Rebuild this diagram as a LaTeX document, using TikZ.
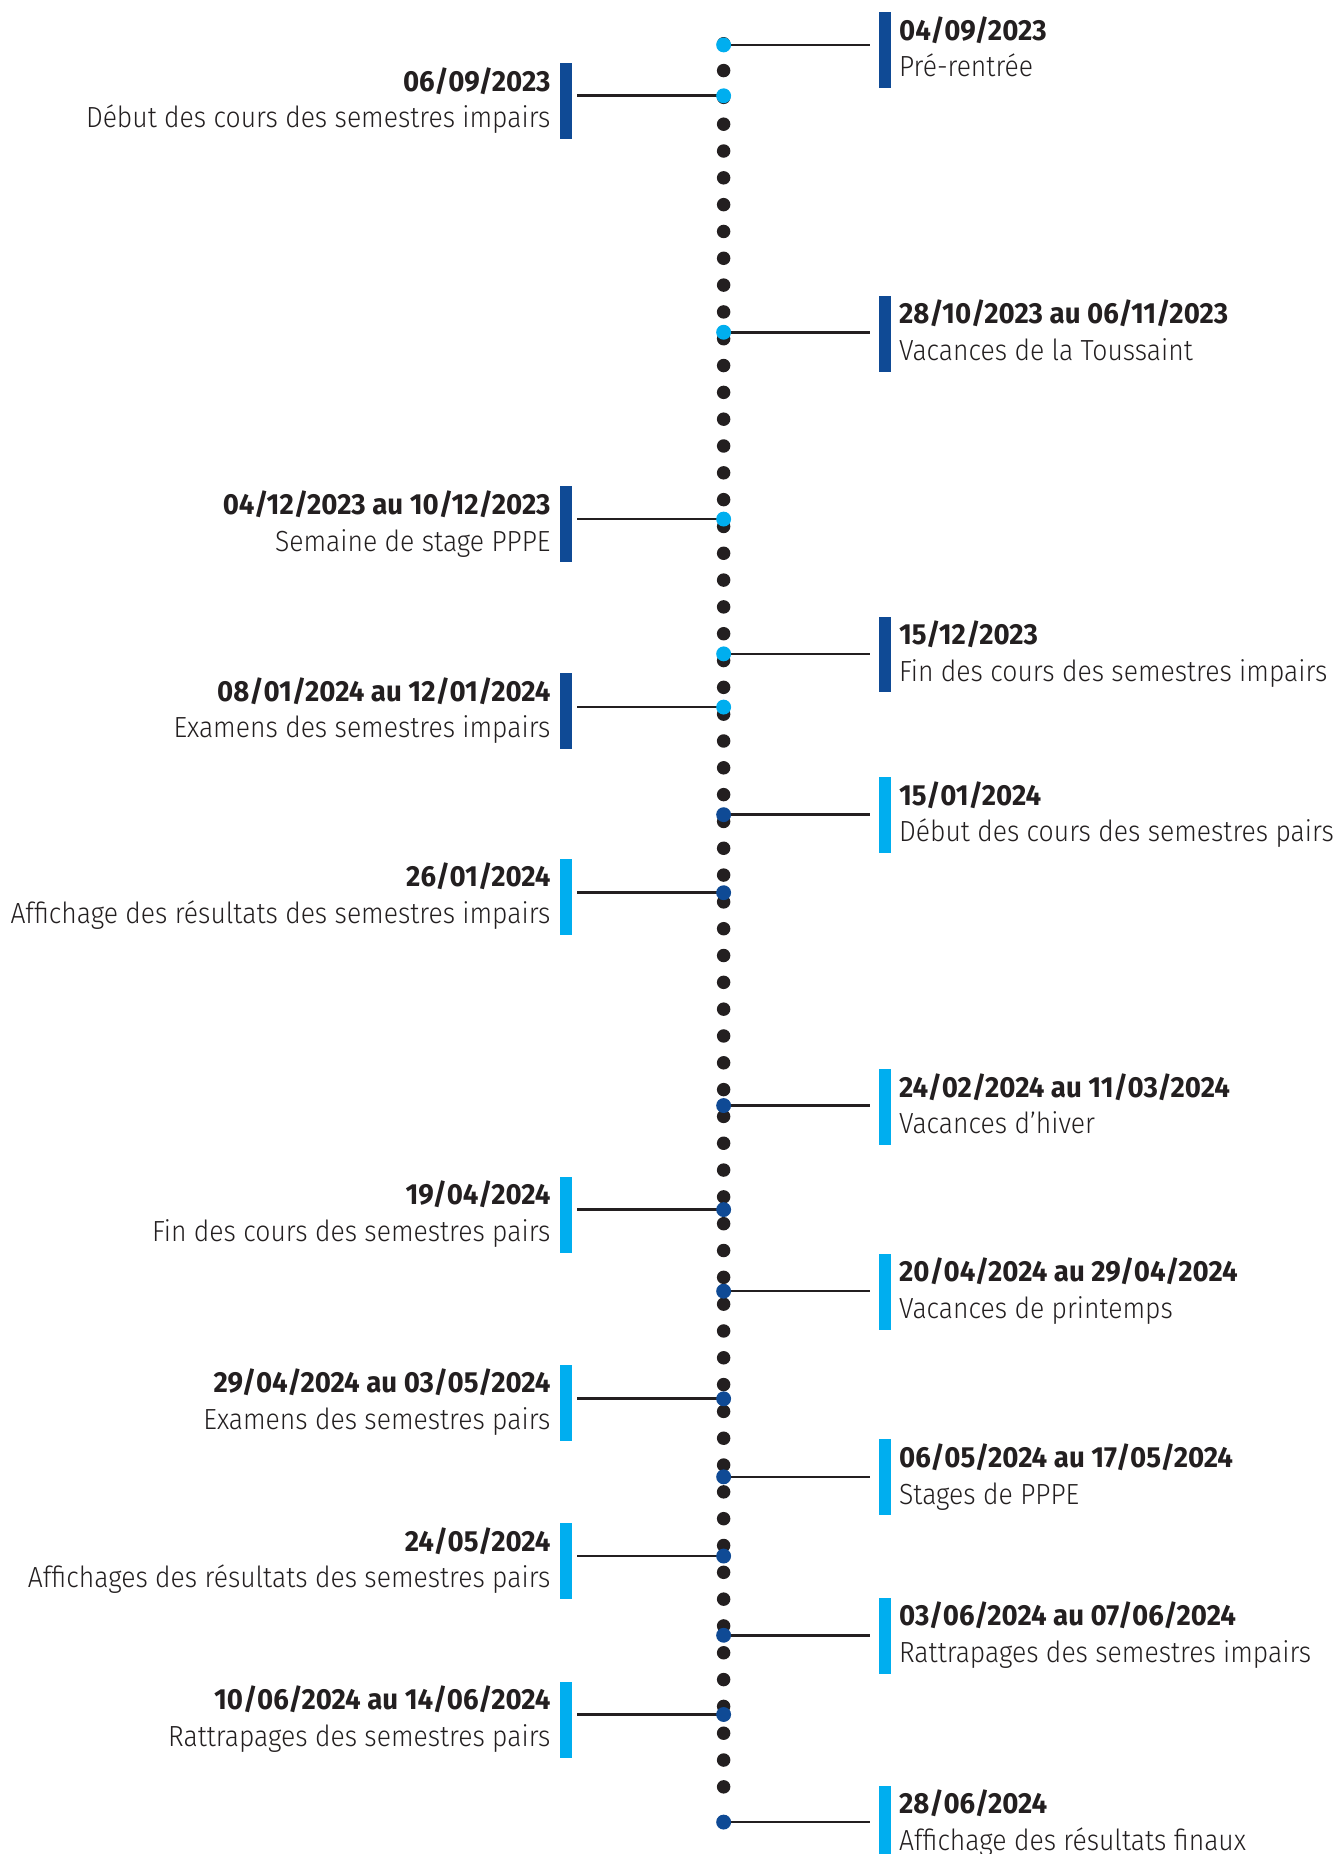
\documentclass[tikz,border=0pt]{standalone}
\usepackage{fontspec}
\setmainfont{Fira Sans Light}[BoldFont={Fira Sans Bold}, FakeStretch=0.912, BoldFeatures={FakeStretch=0.95}]
\definecolor{dblue}{HTML}{0F4A95}
\definecolor{lblue}{HTML}{00AEEF}
\definecolor{ink}{HTML}{231F20}
\tikzset{
  blackdot/.style={circle, inner sep=0pt, minimum size=5.7pt, fill=ink},
  evdot/.style={circle, inner sep=0pt, minimum size=6.3pt},
  evbar/.style={rectangle, inner sep=0pt, minimum width=5pt, minimum height=32pt},
  conn/.style={draw=ink, line width=1.1pt},
  datetxt/.style={inner sep=0pt, text=ink, font=\fontsize{12.3pt}{14pt}\selectfont\bfseries},
  desctxt/.style={inner sep=0pt, text=ink, font=\fontsize{12.3pt}{14pt}\selectfont},
}
\newcommand{\myevR}[7]{%
  \node[evbar, fill=#7, anchor=north west] (b#1) at (743,#2) {};
  \coordinate (p#1) at (612,#3);
  \draw[conn, shorten >=3.5pt] (p#1) -- (b#1.west |- p#1);
  \node[evdot, fill=#6] (d#1) at (p#1) {};
  \node[datetxt, anchor=base west] (t#1) at (760,#2+24) {#4};
  \node[desctxt, anchor=base west] (s#1) at (760,#2+55) {#5};
}
\newcommand{\myevL}[7]{%
  \node[evbar, fill=#7, anchor=north east] (b#1) at (484,#2) {};
  \coordinate (p#1) at (612,#3);
  \draw[conn, shorten >=2pt] (p#1) -- (b#1.east |- p#1);
  \node[evdot, fill=#6] (d#1) at (p#1) {};
  \node[datetxt, anchor=base east] (t#1) at (466,#2+24) {#4};
  \node[desctxt, anchor=base east] (s#1) at (466,#2+55) {#5};
}
\begin{document}
\begin{tikzpicture}[x=0.5pt, y=-0.5pt]
\useasboundingbox (0,0) rectangle (1130,1568);
\clip (0,0) rectangle (1130,1568);
\fill[white] (0,0) rectangle (1130,1568);
\foreach \i in {0,...,65} {
  \node[blackdot] (k\i) at (612, 37+\i*22.68) {};
}
\myevR{1}{10}{38}{04/09/2023}{Pré-rentrée}{lblue}{dblue}
\myevL{2}{53}{81}{06/09/2023}{Début des cours des semestres impairs}{lblue}{dblue}
\myevR{3}{250}{281}{28/10/2023 au 06/11/2023}{Vacances de la Toussaint}{lblue}{dblue}
\myevL{4}{411}{439}{04/12/2023 au 10/12/2023}{Semaine de stage PPPE}{lblue}{dblue}
\myevR{5}{521}{553}{15/12/2023}{Fin des cours des semestres impairs}{lblue}{dblue}
\myevL{6}{569}{598}{08/01/2024 au 12/01/2024}{Examens des semestres impairs}{lblue}{dblue}
\myevR{7}{657}{689}{15/01/2024}{Début des cours des semestres pairs}{dblue}{lblue}
\myevL{8}{726}{755}{26/01/2024}{Affichage des résultats des semestres impairs}{dblue}{lblue}
\myevR{9}{904}{935}{24/02/2024 au 11/03/2024}{Vacances d’hiver}{dblue}{lblue}
\myevL{10}{995}{1023}{19/04/2024}{Fin des cours des semestres pairs}{dblue}{lblue}
\myevR{11}{1060}{1092}{20/04/2024 au 29/04/2024}{Vacances de printemps}{dblue}{lblue}
\myevL{12}{1154}{1183}{29/04/2024 au 03/05/2024}{Examens des semestres pairs}{dblue}{lblue}
\myevR{13}{1217}{1249}{06/05/2024 au 17/05/2024}{Stages de PPPE}{dblue}{lblue}
\myevL{14}{1288}{1316}{24/05/2024}{Affichages des résultats des semestres pairs}{dblue}{lblue}
\myevR{15}{1351}{1383}{03/06/2024 au 07/06/2024}{Rattrapages des semestres impairs}{dblue}{lblue}
\myevL{16}{1422}{1450}{10/06/2024 au 14/06/2024}{Rattrapages des semestres pairs}{dblue}{lblue}
\myevR{17}{1510}{1541}{28/06/2024}{Affichage des résultats finaux}{dblue}{lblue}
\end{tikzpicture}
\end{document}
